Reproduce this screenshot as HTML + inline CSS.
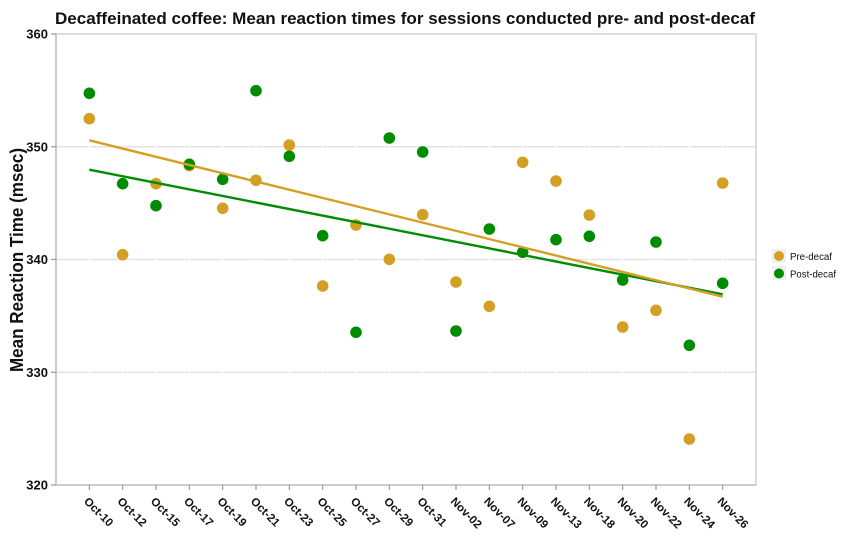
<!DOCTYPE html>
<html>
<head>
<meta charset="utf-8">
<style>
html,body{margin:0;padding:0;background:#fff;}
svg{display:block;}
text{font-family:"Liberation Sans", Arial, sans-serif;}
</style>
</head>
<body>
<svg width="865" height="557" viewBox="0 0 865 557" xmlns="http://www.w3.org/2000/svg">
<rect x="0" y="0" width="865" height="557" fill="#fff"/>
<!-- title -->
<text x="55" y="24" font-size="17" font-weight="bold" fill="#111" textLength="700" lengthAdjust="spacingAndGlyphs">Decaffeinated coffee: Mean reaction times for sessions conducted pre- and post-decaf</text>

<!-- horizontal grid -->
<g stroke="#e3e3e3" stroke-width="1.5">
<line x1="56" y1="146.75" x2="756" y2="146.75"/>
<line x1="56" y1="259.5" x2="756" y2="259.5"/>
<line x1="56" y1="372.25" x2="756" y2="372.25"/>
</g>
<!-- vertical white grid -->
<g stroke="#fff" stroke-width="1.5">
<line x1="89.33" y1="34" x2="89.33" y2="485"/><line x1="122.67" y1="34" x2="122.67" y2="485"/><line x1="156" y1="34" x2="156" y2="485"/><line x1="189.33" y1="34" x2="189.33" y2="485"/><line x1="222.67" y1="34" x2="222.67" y2="485"/><line x1="256" y1="34" x2="256" y2="485"/><line x1="289.33" y1="34" x2="289.33" y2="485"/><line x1="322.67" y1="34" x2="322.67" y2="485"/><line x1="356" y1="34" x2="356" y2="485"/><line x1="389.33" y1="34" x2="389.33" y2="485"/><line x1="422.67" y1="34" x2="422.67" y2="485"/><line x1="456" y1="34" x2="456" y2="485"/><line x1="489.33" y1="34" x2="489.33" y2="485"/><line x1="522.67" y1="34" x2="522.67" y2="485"/><line x1="556" y1="34" x2="556" y2="485"/><line x1="589.33" y1="34" x2="589.33" y2="485"/><line x1="622.67" y1="34" x2="622.67" y2="485"/><line x1="656" y1="34" x2="656" y2="485"/><line x1="689.33" y1="34" x2="689.33" y2="485"/><line x1="722.67" y1="34" x2="722.67" y2="485"/>
</g>
<!-- panel border -->
<rect x="56" y="34" width="700" height="451" fill="none" stroke="#c8c8c8" stroke-width="1.2"/>
<line x1="56" y1="34" x2="56" y2="485" stroke="#bdbdbd" stroke-width="1.5"/>
<line x1="56" y1="485" x2="756" y2="485" stroke="#bdbdbd" stroke-width="1.5"/>

<!-- y ticks -->
<g stroke="#999" stroke-width="1.2">
<line x1="51" y1="34" x2="56" y2="34"/>
<line x1="51" y1="146.75" x2="56" y2="146.75"/>
<line x1="51" y1="259.5" x2="56" y2="259.5"/>
<line x1="51" y1="372.25" x2="56" y2="372.25"/>
<line x1="51" y1="485" x2="56" y2="485"/>
</g>
<g font-size="13" font-weight="bold" fill="#111" text-anchor="end">
<text x="48" y="38.7">360</text>
<text x="48" y="151.4">350</text>
<text x="48" y="264.2">340</text>
<text x="48" y="376.9">330</text>
<text x="48" y="489.7">320</text>
</g>
<!-- y title -->
<text transform="translate(23,260) rotate(-90)" text-anchor="middle" font-size="18" font-weight="bold" fill="#111" textLength="224" lengthAdjust="spacingAndGlyphs">Mean Reaction Time (msec)</text>

<!-- x ticks -->
<g stroke="#999" stroke-width="1.2">
<line x1="89.33" y1="485" x2="89.33" y2="490"/><line x1="122.67" y1="485" x2="122.67" y2="490"/><line x1="156" y1="485" x2="156" y2="490"/><line x1="189.33" y1="485" x2="189.33" y2="490"/><line x1="222.67" y1="485" x2="222.67" y2="490"/><line x1="256" y1="485" x2="256" y2="490"/><line x1="289.33" y1="485" x2="289.33" y2="490"/><line x1="322.67" y1="485" x2="322.67" y2="490"/><line x1="356" y1="485" x2="356" y2="490"/><line x1="389.33" y1="485" x2="389.33" y2="490"/><line x1="422.67" y1="485" x2="422.67" y2="490"/><line x1="456" y1="485" x2="456" y2="490"/><line x1="489.33" y1="485" x2="489.33" y2="490"/><line x1="522.67" y1="485" x2="522.67" y2="490"/><line x1="556" y1="485" x2="556" y2="490"/><line x1="589.33" y1="485" x2="589.33" y2="490"/><line x1="622.67" y1="485" x2="622.67" y2="490"/><line x1="656" y1="485" x2="656" y2="490"/><line x1="689.33" y1="485" x2="689.33" y2="490"/><line x1="722.67" y1="485" x2="722.67" y2="490"/>
</g>
<g font-size="11.5" font-weight="bold" fill="#111">
<text transform="translate(83.3,502) rotate(45)">Oct-10</text>
<text transform="translate(116.7,502) rotate(45)">Oct-12</text>
<text transform="translate(150,502) rotate(45)">Oct-15</text>
<text transform="translate(183.3,502) rotate(45)">Oct-17</text>
<text transform="translate(216.7,502) rotate(45)">Oct-19</text>
<text transform="translate(250,502) rotate(45)">Oct-21</text>
<text transform="translate(283.3,502) rotate(45)">Oct-23</text>
<text transform="translate(316.7,502) rotate(45)">Oct-25</text>
<text transform="translate(350,502) rotate(45)">Oct-27</text>
<text transform="translate(383.3,502) rotate(45)">Oct-29</text>
<text transform="translate(416.7,502) rotate(45)">Oct-31</text>
<text transform="translate(450,502) rotate(45)">Nov-02</text>
<text transform="translate(483.3,502) rotate(45)">Nov-07</text>
<text transform="translate(516.7,502) rotate(45)">Nov-09</text>
<text transform="translate(550,502) rotate(45)">Nov-13</text>
<text transform="translate(583.3,502) rotate(45)">Nov-18</text>
<text transform="translate(616.7,502) rotate(45)">Nov-20</text>
<text transform="translate(650,502) rotate(45)">Nov-22</text>
<text transform="translate(683.3,502) rotate(45)">Nov-24</text>
<text transform="translate(716.7,502) rotate(45)">Nov-26</text>
</g>

<!-- Pre-decaf points -->
<g fill="#d49f24">
<circle cx="89.33" cy="118.7" r="5.8"/>
<circle cx="122.67" cy="254.7" r="5.8"/>
<circle cx="156" cy="183.7" r="5.8"/>
<circle cx="189.33" cy="165.7" r="5.8"/>
<circle cx="222.67" cy="208.3" r="5.8"/>
<circle cx="256" cy="180.3" r="5.8"/>
<circle cx="289.33" cy="145" r="5.8"/>
<circle cx="322.67" cy="286" r="5.8"/>
<circle cx="356" cy="225" r="5.8"/>
<circle cx="389.33" cy="259.3" r="5.8"/>
<circle cx="422.67" cy="214.7" r="5.8"/>
<circle cx="456" cy="282" r="5.8"/>
<circle cx="489.33" cy="306.3" r="5.8"/>
<circle cx="522.67" cy="162.3" r="5.8"/>
<circle cx="556" cy="181" r="5.8"/>
<circle cx="589.33" cy="215" r="5.8"/>
<circle cx="622.67" cy="327" r="5.8"/>
<circle cx="656" cy="310.3" r="5.8"/>
<circle cx="689.33" cy="439" r="5.8"/>
<circle cx="722.67" cy="183" r="5.8"/>
</g>
<!-- Post-decaf points -->
<g fill="#008c00">
<circle cx="89.33" cy="93.3" r="5.8"/>
<circle cx="122.67" cy="183.7" r="5.8"/>
<circle cx="156" cy="205.7" r="5.8"/>
<circle cx="189.33" cy="164.3" r="5.8"/>
<circle cx="222.67" cy="179.3" r="5.8"/>
<circle cx="256" cy="90.7" r="5.8"/>
<circle cx="289.33" cy="156.3" r="5.8"/>
<circle cx="322.67" cy="235.7" r="5.8"/>
<circle cx="356" cy="332.3" r="5.8"/>
<circle cx="389.33" cy="138" r="5.8"/>
<circle cx="422.67" cy="152" r="5.8"/>
<circle cx="456" cy="331" r="5.8"/>
<circle cx="489.33" cy="229" r="5.8"/>
<circle cx="522.67" cy="252.3" r="5.8"/>
<circle cx="556" cy="239.7" r="5.8"/>
<circle cx="589.33" cy="236.3" r="5.8"/>
<circle cx="622.67" cy="280" r="5.8"/>
<circle cx="656" cy="242" r="5.8"/>
<circle cx="689.33" cy="345.3" r="5.8"/>
<circle cx="722.67" cy="283.3" r="5.8"/>
</g>

<!-- trend lines -->
<line x1="89.33" y1="169.7" x2="722.67" y2="294.3" stroke="#008c00" stroke-width="2.4"/>
<line x1="89.33" y1="140.3" x2="722.67" y2="296.7" stroke="#d49f24" stroke-width="2.4"/>

<!-- legend -->
<rect x="772" y="249" width="14" height="14" fill="#f0f0f0"/>
<rect x="772" y="266" width="14" height="14" fill="#f0f0f0"/>
<circle cx="779" cy="256" r="5" fill="#d49f24"/>
<circle cx="779" cy="273.5" r="5" fill="#008c00"/>
<g font-size="10" fill="#111">
<text x="790" y="260" textLength="42" lengthAdjust="spacingAndGlyphs">Pre-decaf</text>
<text x="790" y="277.5" textLength="46" lengthAdjust="spacingAndGlyphs">Post-decaf</text>
</g>
</svg>
</body>
</html>
